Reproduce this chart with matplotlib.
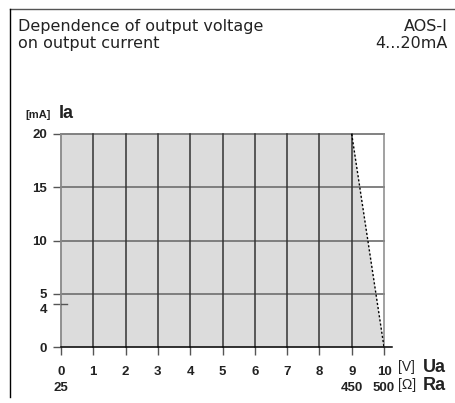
import matplotlib
matplotlib.use("Agg")
import matplotlib.pyplot as plt
import matplotlib.transforms as mtransforms

# data
ua_volts = [0, 1, 2, 3, 4, 5, 6, 7, 8, 9, 10]
ra_labels = {0: "25", 9: "450", 10: "500"}
ia_ticks = [0, 4, 5, 10, 15, 20]
ia_grid = [5, 10, 15, 20]
# working area: full current up to 9 V, then drops to 0 at 10 V
limit_u = [0, 9, 10]
limit_i = [20, 20, 0]

plt.rcParams['font.family'] = ['Liberation Sans', 'DejaVu Sans']

fig = plt.figure(figsize=(4.55, 4.03), dpi=100)
W, H = 455, 403

# frame
fig.add_artist(plt.Line2D([9.5 / W, 1], [1 - 8.5 / H, 1 - 8.5 / H], color="#555555", lw=1))
fig.add_artist(plt.Line2D([9.5 / W, 9.5 / W], [1 - 8.5 / H, 1 - 397 / H], color="black", lw=1))

fig.text(18 / W, 1 - 19 / H, "Dependence of output voltage\non output current",
         fontsize=11.5, va="top", ha="left", linespacing=1.15, color="#222222",
         family="DejaVu Sans")
fig.text(448 / W, 1 - 19 / H, "AOS-I\n4...20mA",
         fontsize=11.5, va="top", ha="right", linespacing=1.15, color="#222222",
         multialignment="right", family="DejaVu Sans")

ax = fig.add_axes([61 / W, 1 - 347 / H, 323 / W, 213 / H])
ax.set_xlim(0, 10)
ax.set_ylim(0, 20)
for s in ax.spines.values():
    s.set_visible(False)

ax.fill_between(limit_u, limit_i, 0, color="#dcdcdc", lw=0, zorder=1)
ax.plot(limit_u[1:], limit_i[1:], color="black", lw=1, ls=(0, (1.5, 1.5)), zorder=4)

for y in ia_grid:
    ax.plot([0, 10], [y, y], color="#777777", lw=1.3, zorder=2, clip_on=False)
for x in ua_volts[1:]:
    c = "#888888" if x == 10 else "#333333"
    ax.plot([x, x], [0, 20], color=c, lw=1.1, zorder=3, clip_on=False)
ax.plot([0, 0], [0, 20], color="#888888", lw=1.3, zorder=3, clip_on=False)
ax.plot([0, 10.25], [0, 0], color="black", lw=1.1, zorder=3, clip_on=False)
# the 4 mA mark crosses the axis
ax.plot([0, 0.2], [4, 4], color="#555555", lw=1, zorder=3)

ax.set_xticks(ua_volts)
ax.set_xticklabels([str(u) + ("\n" + ra_labels[u] if u in ra_labels else "") for u in ua_volts])
ax.set_yticks(ia_ticks)
ax.set_yticklabels([str(i) for i in ia_ticks])
ax.tick_params(axis="x", direction="out", length=6, width=1, color="#555555", pad=8,
               labelsize=9.5)
ax.tick_params(axis="y", direction="out", length=6, width=1, color="#555555", pad=4,
               labelsize=9.5)
for lab in ax.get_xticklabels() + ax.get_yticklabels():
    lab.set_fontweight("bold")
    lab.set_color("#222222")
for lab in ax.get_xticklabels():
    lab.set_verticalalignment("top")
    lab.set_linespacing(1.45)
# the 4 label sits a little below its mark, as in the original
ylabs = ax.get_yticklabels()
ylabs[1].set_transform(ylabs[1].get_transform() + mtransforms.ScaledTranslation(0, -4 / 100, fig.dpi_scale_trans))

# unit labels
fig.text(25 / W, 1 - 115 / H, "[mA]", fontsize=8, fontweight="bold", va="center", ha="left", color="#222222")
fig.text(59 / W, 1 - 113 / H, "Ia", fontsize=13, fontweight="bold", va="center", ha="left", color="#222222")
fig.text(398 / W, 1 - 367 / H, "[V]", fontsize=10, va="center", ha="left", color="#222222")
fig.text(423 / W, 1 - 367 / H, "Ua", fontsize=13, fontweight="bold", va="center", ha="left", color="#222222")
fig.text(398 / W, 1 - 385 / H, "[Ω]", fontsize=10, va="center", ha="left", color="#222222")
fig.text(423 / W, 1 - 385 / H, "Ra", fontsize=13, fontweight="bold", va="center", ha="left", color="#222222")

fig.savefig("out.png", dpi=100)
